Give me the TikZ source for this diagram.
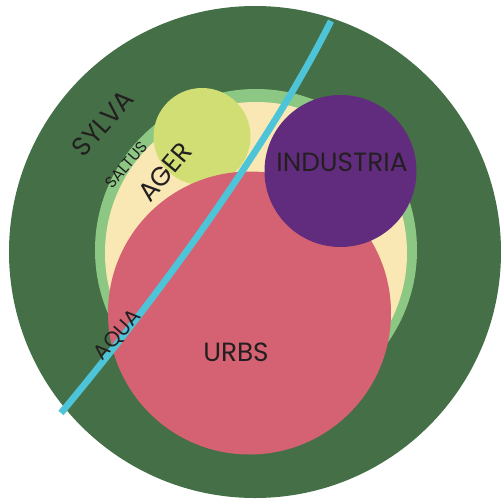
\documentclass[tikz,border=0pt]{standalone}
\usepackage{fontspec}
\setmainfont{Poppins}

\definecolor{sylvagreen}{RGB}{69, 111, 71}
\definecolor{saltusgreen}{RGB}{140, 200, 132}
\definecolor{agercream}{RGB}{250, 232, 180}
\definecolor{hortuslime}{RGB}{208, 222, 116}
\definecolor{indpurple}{RGB}{98, 44, 126}
\definecolor{urbsred}{RGB}{213, 98, 114}
\definecolor{aquablue}{RGB}{78, 196, 216}
\definecolor{inkgray}{RGB}{35, 31, 32}

\begin{document}
\begin{tikzpicture}[x=0.02cm, y=-0.02cm, font=\fontsize{15}{17}\selectfont,
    lbl/.style={text=inkgray, inner sep=0pt}]
      \useasboundingbox (0,0) rectangle (501,501);

      % rings, outermost first
      \fill[sylvagreen] (255,252) circle (246);
      \fill[saltusgreen] (256,250) circle (161);
      \fill[agercream] (256,253) circle (151);

      % inner circles
      \fill[hortuslime] (202,136.5) circle (48.5);
      \fill[urbsred] (249.5,313) circle (141.5);
      \fill[indpurple] (340.5,171) circle (76);

      % river
      \coordinate (aquamouth) at (61,413);
      \coordinate (aquasource) at (331,21);
      \draw[aquablue, line width=3.8pt] (aquamouth) .. controls (161,293) and (271,141) .. (aquasource);

      % labels
      \node[lbl] (industria) at (342,162) {INDUSTRIA};
      \node[lbl] (urbs) at (236,352) {URBS};
      \node[lbl, rotate=48] (sylva) at (103,123) {SYLVA};
      \node[lbl, rotate=50] (ager) at (165,172) {AGER};
      \node[lbl, rotate=49, font=\fontsize{9}{10}\selectfont] (saltus) at (126,165) {SALTUS};
      \node[lbl, rotate=48, font=\fontsize{12}{13}\selectfont] (aqua) at (118,335) {AQUA};
    \end{tikzpicture}
\end{document}
